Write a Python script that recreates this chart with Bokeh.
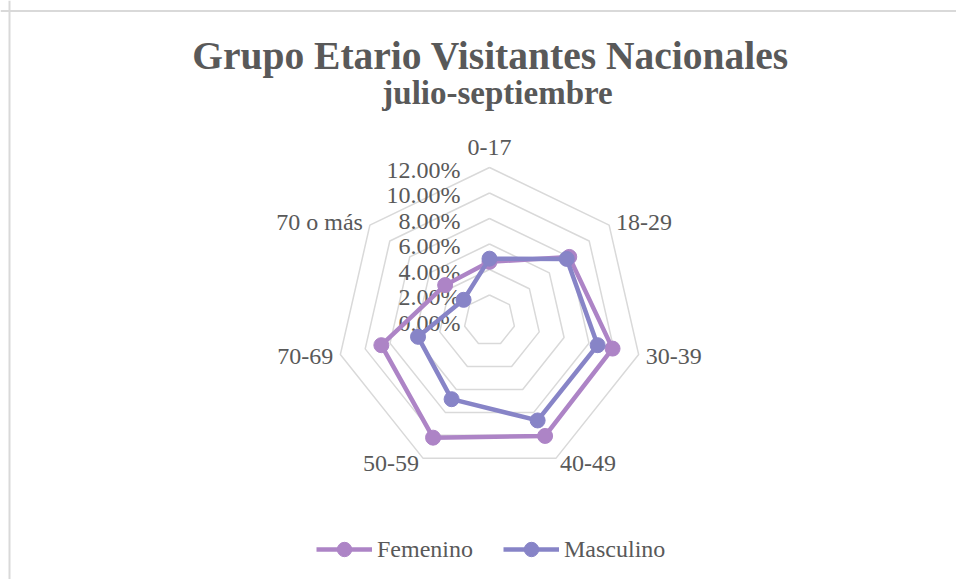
import numpy as np
from bokeh.plotting import figure
from bokeh.models import Range1d, Legend, LegendItem, ColumnDataSource, Span
from bokeh.core.properties import value
from bokeh.embed import file_html
from bokeh.resources import INLINE

# ---------------- data ----------------
categories = ["0-17", "18-29", "30-39", "40-49", "50-59", "70-69", "70 o más"]
femenino = [4.60, 8.00, 9.90, 10.05, 10.20, 8.70, 4.45]
masculino = [4.85, 7.75, 8.70, 8.70, 6.85, 5.75, 2.60]
ticks = [0, 2, 4, 6, 8, 10, 12]
tick_labels = ["0.00%", "2.00%", "4.00%", "6.00%", "8.00%", "10.00%", "12.00%"]
title_text = "Grupo Etario Visitantes Nacionales"
subtitle_text = "julio-septiembre"

# ---------------- layout / style ----------------
W, H = 956, 579
CX, CY = 489, 320          # centre of the radar in page pixels
SCALE = 12.75              # pixels per 1 %
FONT = "Liberation Serif"
TXT = "#595959"
GRID = "#d9d9d9"
C_FEM = "#AD84C6"
C_MAS = "#8784C7"

p = figure(width=W, height=H, output_backend="svg", toolbar_location=None,
           x_range=Range1d(-CX, W - CX), y_range=Range1d(CY - H, CY),
           min_border=0, outline_line_color=None)
p.axis.visible = False
p.grid.visible = False
p.background_fill_color = "white"
p.border_fill_color = "white"

# chart-area border (top and left edges visible in reference)
p.add_layout(Span(location=CY - 10.5, dimension="width", line_color=GRID, line_width=2))
p.add_layout(Span(location=9 - CX, dimension="height", line_color=GRID, line_width=2))

n = len(categories)
ang = np.pi / 2 - 2 * np.pi * np.arange(n) / n

# grid rings
xs, ys = [], []
for t in ticks[1:]:
    r = t * SCALE
    xs.append(list(r * np.cos(np.r_[ang, ang[0]])))
    ys.append(list(r * np.sin(np.r_[ang, ang[0]])))
p.multi_line(xs, ys, line_color=GRID, line_width=1.5)

# radial tick labels
p.text(x=[-29] * len(ticks), y=[t * SCALE - 2 for t in ticks], text=tick_labels,
       text_align="right", text_baseline="middle", text_font=value(FONT),
       text_font_size="24px", text_color=TXT)

# category labels
R = ticks[-1] * SCALE
lx, ly, la, lb = [], [], [], []
for k in range(n):
    vx, vy = R * np.cos(ang[k]), R * np.sin(ang[k])
    c, s = np.cos(ang[k]), np.sin(ang[k])
    if abs(c) < 0.1:
        lx.append(vx); ly.append(vy + 20); la.append("center"); lb.append("middle")
    elif s < -0.5:
        lx.append(vx + (4 if c > 0 else -4)); ly.append(vy + 2)
        la.append("left" if c > 0 else "right"); lb.append("top")
    else:
        lx.append(vx + (7 if c > 0 else -7)); ly.append(vy + (3 if s > 0 else -2))
        la.append("left" if c > 0 else "right"); lb.append("middle")
lab_src = ColumnDataSource(dict(x=lx, y=ly, text=categories, align=la, base=lb))
p.text(x="x", y="y", text="text", text_align="align", text_baseline="base", source=lab_src,
       text_font=value(FONT), text_font_size="24px", text_color=TXT)

# series
items = []
for name, vals, col in [("Femenino", femenino, C_FEM), ("Masculino", masculino, C_MAS)]:
    v = np.array(vals) * SCALE
    x = v * np.cos(ang)
    y = v * np.sin(ang)
    ln = p.line(list(np.r_[x, x[0]]), list(np.r_[y, y[0]]), line_color=col, line_width=4.5,
                line_join="round")
    sc = p.scatter(list(x), list(y), size=15, fill_color=col, line_color=col)
    items.append(LegendItem(label=name, renderers=[ln, sc]))

# titles
p.text(x=[490 - CX], y=[CY - 55], text=[title_text], text_align="center",
       text_baseline="middle", text_font=value(FONT), text_font_style="bold",
       text_font_size="39.5px", text_color=TXT)
p.text(x=[497 - CX], y=[CY - 92], text=[subtitle_text], text_align="center",
       text_baseline="middle", text_font=value(FONT), text_font_style="bold",
       text_font_size="33px", text_color=TXT)

legend = Legend(items=items, orientation="horizontal", location=(316, 12),
                glyph_width=56, glyph_height=36, label_standoff=5, spacing=30,
                padding=0, margin=0, border_line_color=None, background_fill_alpha=0,
                label_text_font=FONT, label_text_font_size="24px", label_text_color=TXT)
p.add_layout(legend)

open("out.html", "w").write(file_html(p, INLINE))
